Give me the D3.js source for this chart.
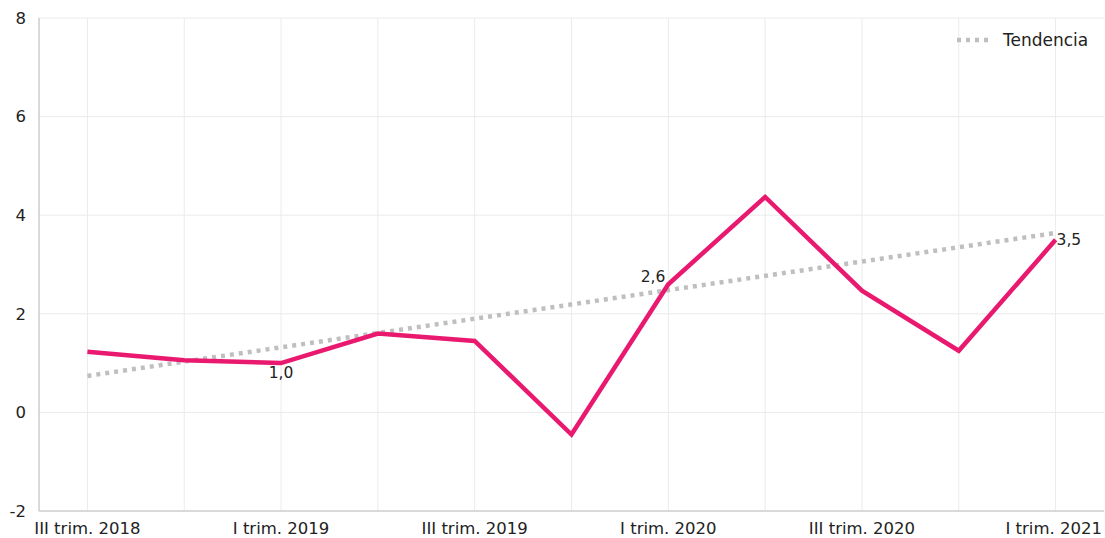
<!DOCTYPE html>
<html>
<head>
<meta charset="utf-8">
<script src="https://cdn.jsdelivr.net/npm/d3@7"></script>
<style>
  body { margin: 0; background: #fff; }
  text { font-family: "DejaVu Sans", sans-serif; fill: #222; }
</style>
</head>
<body>
<div id="chart"></div>
<script>
// Datos
var categories = ["III trim. 2018", "IV trim. 2018", "I trim. 2019", "II trim. 2019", "III trim. 2019",
  "IV trim. 2019", "I trim. 2020", "II trim. 2020", "III trim. 2020", "IV trim. 2020", "I trim. 2021"];
var values = [1.23, 1.06, 1.0, 1.6, 1.45, -0.45, 2.6, 4.37, 2.47, 1.25, 3.5];
// tendencia: extremos de la recta
var trendPoints = [{ cat: "III trim. 2018", v: 0.74 }, { cat: "I trim. 2021", v: 3.64 }];
var yTicks = [-2, 0, 2, 4, 6, 8];
var labelled = { "I trim. 2019": "below", "I trim. 2020": "left", "I trim. 2021": "right" };

var width = 1105, height = 538;
var margin = { top: 18, right: 1, bottom: 27, left: 39 };

var svg = d3.select("#chart").append("svg")
  .attr("width", width)
  .attr("height", height);

var x = d3.scaleBand().domain(categories).range([margin.left, width - margin.right]);
var y = d3.scaleLinear().domain([-2, 8]).range([height - margin.bottom, margin.top]);
var cx = d => x(d) + x.bandwidth() / 2;

// rejilla horizontal
svg.append("g").selectAll("line").data(yTicks.filter(t => t > -2)).enter().append("line")
  .attr("x1", margin.left).attr("x2", width - margin.right)
  .attr("y1", d => y(d)).attr("y2", d => y(d))
  .attr("stroke", "#ebebeb").attr("stroke-width", 1);

// rejilla vertical
svg.append("g").selectAll("line").data(categories).enter().append("line")
  .attr("x1", d => cx(d)).attr("x2", d => cx(d))
  .attr("y1", margin.top).attr("y2", y(-2))
  .attr("stroke", "#ebebeb").attr("stroke-width", 1);

// ejes
svg.append("line").attr("x1", margin.left).attr("x2", margin.left)
  .attr("y1", margin.top).attr("y2", y(-2)).attr("stroke", "#cccccc").attr("stroke-width", 1.5);
svg.append("line").attr("x1", margin.left).attr("x2", width - margin.right)
  .attr("y1", y(-2)).attr("y2", y(-2)).attr("stroke", "#cccccc").attr("stroke-width", 1.5);

svg.append("g").selectAll("text").data(yTicks).enter().append("text")
  .attr("x", 26).attr("y", d => y(d)).attr("dy", "0.35em")
  .attr("text-anchor", "end").style("font-size", "16.5px")
  .text(d => d);

svg.append("g").selectAll("text").data(categories.filter((c, i) => i % 2 === 0)).enter().append("text")
  .attr("x", (d, i) => i === 5 ? width - 3 : cx(d))
  .attr("y", 534).attr("text-anchor", (d, i) => i === 5 ? "end" : "middle")
  .style("font-size", "16.5px")
  .text(d => d);

// tendencia
svg.append("path").datum(trendPoints)
  .attr("d", d3.line().x(d => cx(d.cat)).y(d => y(d.v)))
  .attr("fill", "none").attr("stroke", "#bfbfbf").attr("stroke-width", 4.5)
  .attr("stroke-dasharray", "4,5");

// serie
svg.append("path").datum(values)
  .attr("d", d3.line().x((d, i) => cx(categories[i])).y(d => y(d)))
  .attr("fill", "none").attr("stroke", "#e8196f").attr("stroke-width", 4.5)
  .attr("stroke-linejoin", "miter");

// etiquetas
var fmt = d => d.toFixed(1).replace(".", ",");
categories.forEach(function (c, i) {
  var pos = labelled[c];
  if (!pos) return;
  var t = svg.append("text").style("font-size", "15.5px").text(fmt(values[i]));
  if (pos === "below") t.attr("x", cx(c)).attr("y", y(values[i]) + 15).attr("text-anchor", "middle");
  if (pos === "left") t.attr("x", cx(c) - 3).attr("y", y(values[i]) - 2).attr("text-anchor", "end");
  if (pos === "right") t.attr("x", cx(c) + 1).attr("y", y(values[i]) + 5).attr("text-anchor", "start");
});

// leyenda
var legend = svg.append("g").attr("transform", "translate(957,40)");
legend.append("line").attr("x1", 0).attr("x2", 33).attr("y1", 0).attr("y2", 0)
  .attr("stroke", "#bfbfbf").attr("stroke-width", 4.5).attr("stroke-dasharray", "4,5");
legend.append("text").attr("x", 46).attr("y", 0).attr("dy", "0.35em")
  .style("font-size", "17px").text("Tendencia");
</script>
</body>
</html>
